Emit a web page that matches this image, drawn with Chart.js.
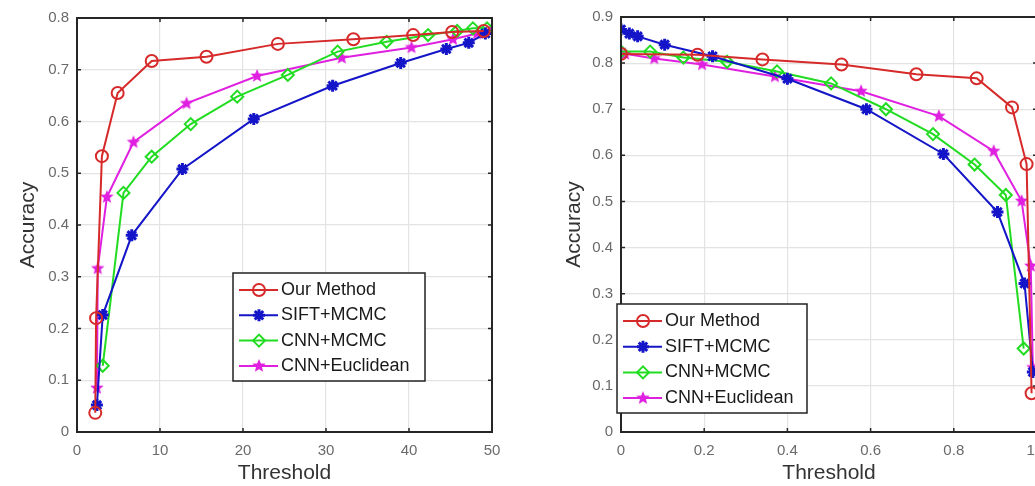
<!DOCTYPE html>
<html>
<head>
<meta charset="utf-8">
<script src="https://cdn.jsdelivr.net/npm/chart.js@4/dist/chart.umd.min.js"></script>
<style>
  html, body { margin: 0; padding: 0; background: #fff; width: 1035px; height: 486px; overflow: hidden; position: relative; }
  .box { position: absolute; top: 0; height: 486px; }
</style>
</head>
<body>
<div class="box" style="left:0px;width:515px"><canvas id="chartLeft" width="515" height="486"></canvas></div>
<div class="box" style="left:540px;width:520px"><canvas id="chartRight" width="520" height="486"></canvas></div>
<script>
const seriesNames = ['Our Method', 'SIFT+MCMC', 'CNN+MCMC', 'CNN+Euclidean'];
const seriesColors = ['#d62a2a', '#1414c8', '#22dc22', '#e020e0'];

// left plot: threshold 0..50
const leftOurX = [2.2, 2.3, 3.0, 4.9, 9.0, 15.6, 24.2, 33.3, 40.5, 45.2, 49.0];
const leftOurY = [0.037, 0.22, 0.533, 0.655, 0.717, 0.725, 0.75, 0.759, 0.767, 0.773, 0.775];
const leftSiftX = [2.4, 3.1, 6.6, 12.7, 21.3, 30.8, 39.0, 44.5, 47.2, 49.2];
const leftSiftY = [0.052, 0.226, 0.38, 0.508, 0.605, 0.669, 0.713, 0.74, 0.752, 0.77];
const leftCnnX = [3.1, 5.6, 9.0, 13.7, 19.3, 25.4, 31.4, 37.3, 42.3, 45.8, 47.7, 49.4];
const leftCnnY = [0.128, 0.462, 0.532, 0.595, 0.648, 0.69, 0.735, 0.754, 0.767, 0.775, 0.78, 0.78];
const leftEucX = [2.4, 2.5, 3.6, 6.8, 13.2, 21.7, 31.9, 40.3, 45.3, 48.2, 49.8];
const leftEucY = [0.085, 0.316, 0.454, 0.56, 0.635, 0.688, 0.723, 0.743, 0.759, 0.77, 0.775];
const leftXTicks = [0, 10, 20, 30, 40, 50];
const leftYTicks = [0, 0.1, 0.2, 0.3, 0.4, 0.5, 0.6, 0.7, 0.8];

// right plot: threshold 0..1
const rightOurX = [0.0, 0.184, 0.34, 0.53, 0.71, 0.855, 0.94, 0.975, 0.987];
const rightOurY = [0.82, 0.818, 0.808, 0.797, 0.776, 0.767, 0.704, 0.581, 0.084];
const rightSiftX = [0.0, 0.02, 0.04, 0.105, 0.22, 0.4, 0.59, 0.775, 0.905, 0.97, 0.99];
const rightSiftY = [0.873, 0.864, 0.858, 0.84, 0.815, 0.766, 0.70, 0.603, 0.477, 0.322, 0.13];
const rightCnnX = [0.0, 0.07, 0.15, 0.255, 0.375, 0.505, 0.637, 0.75, 0.85, 0.925, 0.968];
const rightCnnY = [0.825, 0.825, 0.812, 0.803, 0.782, 0.756, 0.70, 0.646, 0.58, 0.514, 0.181];
const rightEucX = [0.0, 0.01, 0.08, 0.195, 0.37, 0.577, 0.764, 0.896, 0.963, 0.985, 0.99];
const rightEucY = [0.822, 0.82, 0.81, 0.797, 0.771, 0.739, 0.685, 0.609, 0.501, 0.36, 0.14];
const rightXTicks = [0, 0.2, 0.4, 0.6, 0.8, 1];
const rightYTicks = [0, 0.1, 0.2, 0.3, 0.4, 0.5, 0.6, 0.7, 0.8, 0.9];

const fontFamily = '"Liberation Sans", Arial, sans-serif';

function makePentagram(color, r) {
    const c = document.createElement('canvas');
    c.width = r * 2 + 2;
    c.height = r * 2 + 2;
    const ctx = c.getContext('2d');
    ctx.fillStyle = color;
    ctx.beginPath();
    for (let i = 0; i < 10; i++) {
        const rad = i % 2 === 0 ? r : r * 0.45;
        const a = -Math.PI / 2 + i * Math.PI / 5;
        const px = r + 1 + rad * Math.cos(a);
        const py = r + 1 + rad * Math.sin(a);
        if (i === 0) ctx.moveTo(px, py); else ctx.lineTo(px, py);
    }
    ctx.closePath();
    ctx.fill();
    return c;
}

const pentagram = makePentagram(seriesColors[3], 7);

function toPoints(xs, ys) {
    return xs.map((x, i) => ({ x: x, y: ys[i] }));
}

function makeDatasets(lists) {
    const styles = [
        { pointStyle: 'circle', pointRadius: 6, pointBackgroundColor: 'rgba(255,255,255,0)', pointBorderWidth: 2 },
        { pointStyle: 'star', pointRadius: 6, pointBackgroundColor: seriesColors[1], pointBorderWidth: 3 },
        { pointStyle: 'rectRot', pointRadius: 6, pointBackgroundColor: 'rgba(255,255,255,0)', pointBorderWidth: 2 },
        { pointStyle: pentagram, pointRadius: 7, pointBackgroundColor: seriesColors[3], pointBorderWidth: 1 }
    ];
    return lists.map((pts, i) => Object.assign({
        label: seriesNames[i],
        data: pts,
        borderColor: seriesColors[i],
        pointBorderColor: seriesColors[i],
        borderWidth: 2,
        tension: 0,
        fill: false
    }, styles[i]));
}

// matlab style box with inward ticks, and the legend box
const boxLegendPlugin = {
    id: 'boxLegend',
    afterDatasetsDraw(chart, args, opts) {
        const ctx = chart.ctx;
        const a = chart.chartArea;
        const xs = chart.scales.x, ys = chart.scales.y;
        ctx.save();
        ctx.strokeStyle = '#262626';
        ctx.lineWidth = 2;
        ctx.strokeRect(a.left, a.top, a.right - a.left, a.bottom - a.top);
        ctx.lineWidth = 1.5;
        ctx.beginPath();
        xs.ticks.forEach(t => {
            const px = xs.getPixelForValue(t.value);
            ctx.moveTo(px, a.bottom); ctx.lineTo(px, a.bottom - 4);
            ctx.moveTo(px, a.top); ctx.lineTo(px, a.top + 4);
        });
        ys.ticks.forEach(t => {
            const py = ys.getPixelForValue(t.value);
            ctx.moveTo(a.left, py); ctx.lineTo(a.left + 4, py);
            ctx.moveTo(a.right, py); ctx.lineTo(a.right - 4, py);
        });
        ctx.stroke();

        const lx = opts.x, ly = opts.y, lw = opts.w, lh = opts.h;
        ctx.fillStyle = '#fff';
        ctx.fillRect(lx, ly, lw, lh);
        ctx.strokeStyle = '#222';
        ctx.lineWidth = 1.5;
        ctx.strokeRect(lx, ly, lw, lh);
        ctx.font = '18px ' + fontFamily;
        ctx.textBaseline = 'middle';
        chart.data.datasets.forEach((ds, i) => {
            const cy = ly + opts.firstRow + opts.rowGap * i;
            ctx.strokeStyle = ds.borderColor;
            ctx.lineWidth = 2;
            ctx.beginPath();
            ctx.moveTo(lx + 6, cy);
            ctx.lineTo(lx + 45, cy);
            ctx.stroke();
            ctx.fillStyle = ds.pointBackgroundColor;
            ctx.strokeStyle = ds.pointBorderColor;
            ctx.lineWidth = ds.pointBorderWidth;
            Chart.helpers.drawPoint(ctx, { pointStyle: ds.pointStyle, radius: ds.pointRadius, borderWidth: ds.pointBorderWidth, rotation: 0 }, lx + 26, cy);
            ctx.fillStyle = '#1a1a1a';
            ctx.fillText(ds.label, lx + 48, cy);
        });
        ctx.restore();
    }
};

function makeChart(id, datasets, xMax, yMax, xTicks, yTicks, yWidth, padRight, padTop, yTitlePad, legendBox) {
    const ctx = document.getElementById(id).getContext('2d');
    return new Chart(ctx, {
        type: 'line',
        data: { datasets: datasets },
        plugins: [boxLegendPlugin],
        options: {
            responsive: false,
            animation: false,
            layout: { padding: { left: 0, right: padRight, top: padTop, bottom: 0 } },
            plugins: {
                legend: { display: false },
                tooltip: { enabled: false },
                boxLegend: legendBox
            },
            scales: {
                x: {
                    type: 'linear',
                    min: 0,
                    max: xMax,
                    afterBuildTicks: (scale) => { scale.ticks = xTicks.map(v => ({ value: v })); },
                    afterFit: (scale) => { scale.height = 54; },
                    grid: { color: '#e3e3e3', lineWidth: 1.2, drawTicks: false },
                    border: { display: false },
                    ticks: { color: '#6a6a6a', padding: 10, font: { size: 15, family: fontFamily } },
                    title: { display: true, text: 'Threshold', color: '#333', padding: { top: 4, bottom: 0 }, font: { size: 21, family: fontFamily } }
                },
                y: {
                    min: 0,
                    max: yMax,
                    afterBuildTicks: (scale) => { scale.ticks = yTicks.map(v => ({ value: v })); },
                    afterFit: (scale) => { scale.width = yWidth; },
                    grid: { color: '#e3e3e3', lineWidth: 1.2, drawTicks: false },
                    border: { display: false },
                    ticks: { color: '#6a6a6a', padding: 8, font: { size: 15, family: fontFamily } },
                    title: { display: true, text: 'Accuracy', color: '#333', padding: { top: yTitlePad, bottom: 0 }, font: { size: 21, family: fontFamily } }
                }
            }
        }
    });
}

const leftSets = makeDatasets([
    toPoints(leftOurX, leftOurY),
    toPoints(leftSiftX, leftSiftY),
    toPoints(leftCnnX, leftCnnY),
    toPoints(leftEucX, leftEucY)
]);
const rightSets = makeDatasets([
    toPoints(rightOurX, rightOurY),
    toPoints(rightSiftX, rightSiftY),
    toPoints(rightCnnX, rightCnnY),
    toPoints(rightEucX, rightEucY)
]);

makeChart('chartLeft', leftSets, 50, 0.8, leftXTicks, leftYTicks, 77, 23, 18, 16,
    { x: 233, y: 273, w: 192, h: 108, firstRow: 17, rowGap: 25.3 });
makeChart('chartRight', rightSets, 1, 0.9, rightXTicks, rightYTicks, 81, 23, 15, 22,
    { x: 77, y: 304, w: 190, h: 109, firstRow: 17, rowGap: 25.7 });
</script>
</body>
</html>
